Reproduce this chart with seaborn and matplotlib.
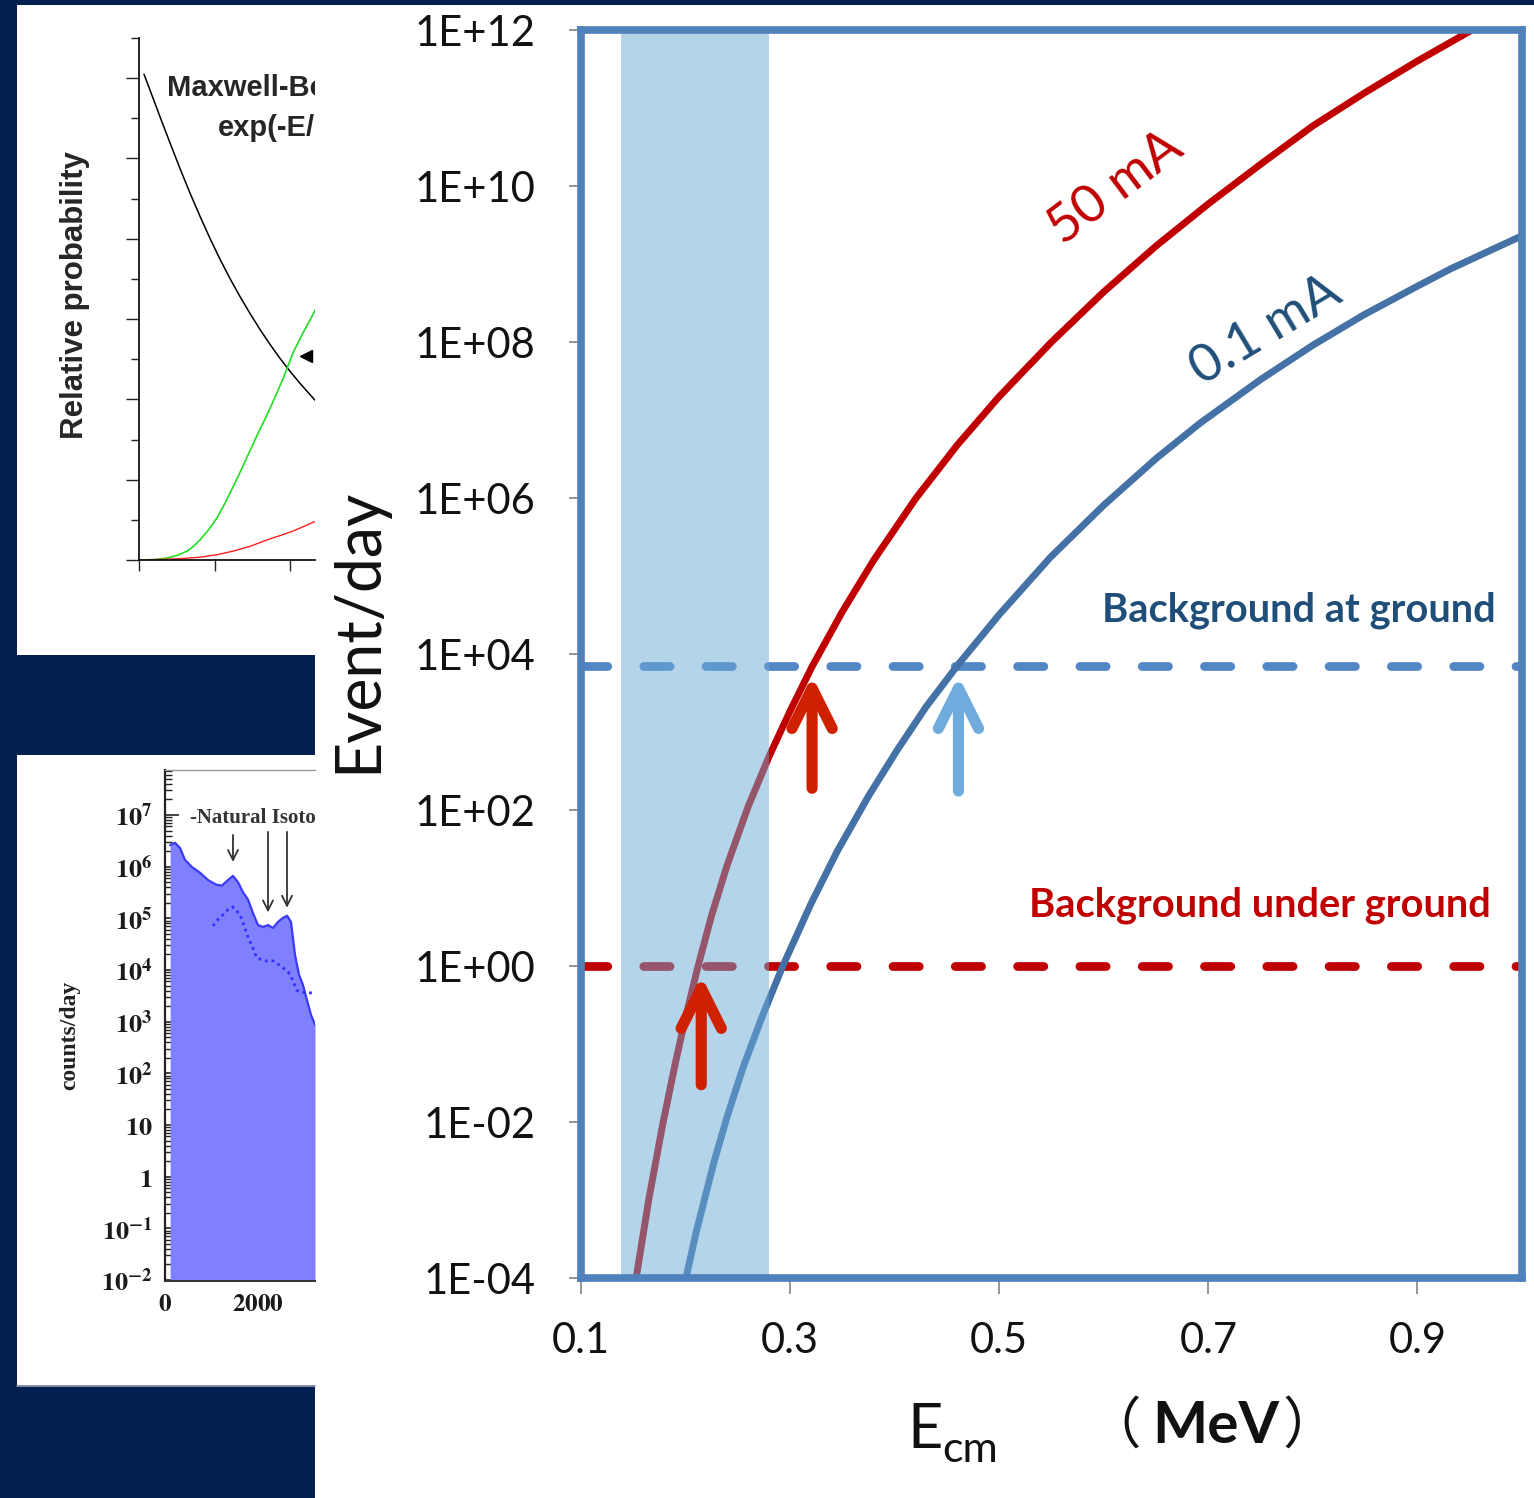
import numpy as np
import pandas as pd
import matplotlib
matplotlib.use("Agg")
import matplotlib.pyplot as plt
import seaborn as sns
from matplotlib.patches import Rectangle
from matplotlib.lines import Line2D
from matplotlib.ticker import (FixedLocator, NullFormatter, NullLocator,
                               LogLocator, MultipleLocator)

# ---------------- main chart: event rate vs centre-of-mass energy ----------------
energy_50mA = [0.153, 0.165, 0.178, 0.190, 0.200, 0.212, 0.225, 0.240, 0.260,
               0.280, 0.300, 0.321, 0.350, 0.380, 0.420, 0.460, 0.500, 0.550,
               0.600, 0.650, 0.700, 0.750, 0.800, 0.850, 0.900, 0.951, 0.970]
events_50mA = [1.05e-4, 1.05e-3, 9.1e-3, 5.5e-2, 0.22, 1.0, 4.5, 20, 112,
               490, 1.86e3, 6.9e3, 3.5e4, 1.6e5, 9.8e5, 4.8e6, 2.0e7, 1.0e8,
               4.4e8, 1.7e9, 5.9e9, 1.9e10, 5.9e10, 1.58e11, 4.0e11, 9.8e11, 1.35e12]

energy_01mA = [0.198, 0.210, 0.227, 0.240, 0.255, 0.273, 0.293, 0.320, 0.345,
               0.375, 0.402, 0.430, 0.461, 0.500, 0.549, 0.600, 0.650, 0.692,
               0.750, 0.800, 0.849, 0.900, 0.932, 0.970, 1.000]
events_01mA = [7.2e-5, 3.8e-4, 3.0e-3, 1.2e-2, 5.0e-2, 0.22, 1.0, 6.3, 29.5,
               151, 575, 2.1e3, 7.4e3, 3.2e4, 1.74e5, 8.1e5, 3.2e6, 9.1e6,
               3.3e7, 9.1e7, 2.24e8, 5.2e8, 8.7e8, 1.5e9, 2.3e9]

background_ground = 7.0e3
background_underground = 1.0
stellar_window = (0.138, 0.280)

arrow_energy = [0.215, 0.321, 0.461]
arrow_level = [background_underground, background_ground, background_ground]
arrow_tail = [0.03, 190, 175]

x_ticks = [0.1, 0.3, 0.5, 0.7, 0.9]
x_tick_labels = ["0.1", "0.3", "0.5", "0.7", "0.9"]
y_ticks = [1e-4, 1e-2, 1e0, 1e2, 1e4, 1e6, 1e8, 1e10, 1e12]
y_tick_labels = ["1E-04", "1E-02", "1E+00", "1E+02", "1E+04",
                 "1E+06", "1E+08", "1E+10", "1E+12"]

# ---------------- inset 1: Gamow peak ingredients ----------------
mb_x = [0.066, 0.17, 0.278, 0.41, 0.543, 0.675, 0.808, 0.94, 1.073, 1.205,
        1.338, 1.47, 1.603, 1.735, 1.868, 2.0, 2.132, 2.331]
mb_y = [12.10, 11.58, 11.04, 10.39, 9.75, 9.14, 8.56, 8.01, 7.49, 7.01,
        6.56, 6.14, 5.74, 5.37, 5.02, 4.70, 4.40, 3.98]
tunnel_x = [0.0, 0.2, 0.371, 0.5, 0.636, 0.72, 0.808, 0.92, 1.033, 1.14, 1.245,
            1.36, 1.47, 1.58, 1.695, 1.80, 1.907, 2.04, 2.17, 2.30, 2.331]
tunnel_y = [0.0, 0.01, 0.05, 0.11, 0.22, 0.34, 0.50, 0.75, 1.05, 1.42, 1.82,
            2.27, 2.72, 3.17, 3.61, 4.05, 4.51, 5.16, 5.65, 6.10, 6.22]
low_x = [0.0, 0.37, 0.6, 0.808, 1.03, 1.245, 1.47, 1.695, 1.87, 2.04, 2.2, 2.331]
low_y = [0.0, 0.02, 0.04, 0.07, 0.13, 0.22, 0.34, 0.50, 0.61, 0.72, 0.85, 0.96]

# ---------------- inset 2: gamma background spectrum ----------------
spec_energy = [110, 215, 323, 430, 580, 753, 925, 1097, 1226, 1355, 1462, 1570,
               1677, 1785, 1892, 2000, 2108, 2215, 2323, 2430, 2538, 2624, 2710,
               2796, 2882, 2968, 3054, 3140, 3226]
spec_counts = [2.6e6, 2.9e6, 2.3e6, 1.35e6, 9.8e5, 7.6e5, 5.5e5, 4.5e5, 4.3e5,
               5.5e5, 6.6e5, 5.0e5, 3.2e5, 2.3e5, 1.26e5, 7.4e4, 6.8e4, 7.4e4,
               6.5e4, 8.5e4, 1.02e5, 1.12e5, 8.5e4, 1.95e4, 8.1e3, 5.1e3, 2.6e3,
               1.35e3, 8.7e2]
shield_energy = [1032, 1140, 1247, 1355, 1462, 1613, 1785, 1978, 2151, 2323,
                 2516, 2688, 2839, 3011, 3226]
shield_counts = [7.1e4, 9.5e4, 1.17e5, 1.48e5, 1.66e5, 1.17e5, 4.4e4, 1.7e4,
                 1.5e4, 1.5e4, 1.15e4, 8.3e3, 4.0e3, 3.6e3, 3.6e3]
isotope_energy = [1462, 2215, 2624]
isotope_tip = [1.23e6, 1.3e5, 1.6e5]
isotope_tail = [4.1e6, 4.7e6, 4.7e6]
spec_y_ticks = [1e-2, 1e-1, 1e0, 1e1, 1e2, 1e3, 1e4, 1e5, 1e6, 1e7]
spec_y_labels = [r"$\mathbf{10^{-2}}$", r"$\mathbf{10^{-1}}$", r"$\mathbf{1}$",
                 r"$\mathbf{10}$", r"$\mathbf{10^{2}}$", r"$\mathbf{10^{3}}$",
                 r"$\mathbf{10^{4}}$", r"$\mathbf{10^{5}}$", r"$\mathbf{10^{6}}$",
                 r"$\mathbf{10^{7}}$"]

# ---------------- styling ----------------
NAVY = "#022150"
RED = "#C00000"
CURVE_BLUE = "#4472A7"
DASH_BLUE = "#5286C5"
TEXT_BLUE = "#1F4E79"
FRAME_BLUE = "#4F81BD"
BAND = "#6BABD7"
ARROW_RED = "#CF2000"
ARROW_BLUE = "#6FACDD"

sns.set_theme(style="white")
plt.rcParams["font.family"] = ["Lato", "DejaVu Sans"]
plt.rcParams["mathtext.fontset"] = "stix"

W, H = 1534, 1498
fig = plt.figure(figsize=(W / 100, H / 100), dpi=100, facecolor=NAVY)


def fx(px):
    return px / W


def fy(py):
    return 1 - py / H


# white panels
fig.add_artist(Rectangle((fx(315), 0), 1 - fx(315), fy(5), transform=fig.transFigure,
                         facecolor="white", edgecolor="none", zorder=-1))
fig.add_artist(Rectangle((fx(17), fy(655)), fx(315) - fx(17), fy(5) - fy(655),
                         transform=fig.transFigure, facecolor="white",
                         edgecolor="none", zorder=-1))
fig.add_artist(Rectangle((fx(17), fy(1385)), fx(315) - fx(17), fy(755) - fy(1385),
                         transform=fig.transFigure, facecolor="white",
                         edgecolor="none", zorder=-1))
fig.add_artist(Line2D([fx(17), fx(315)], [fy(1386), fy(1386)], transform=fig.transFigure,
                      color="#9AA3B5", lw=1.2, zorder=-0.5))

# ================= main axes =================
ax = fig.add_axes([fx(581), fy(1278), fx(1522) - fx(581), fy(30) - fy(1278)])
ax.set_yscale("log")

curves = pd.concat([
    pd.DataFrame({"E": energy_50mA, "events": events_50mA, "beam": "50 mA"}),
    pd.DataFrame({"E": energy_01mA, "events": events_01mA, "beam": "0.1 mA"}),
], ignore_index=True)
sns.lineplot(data=curves, x="E", y="events", hue="beam",
             palette={"50 mA": RED, "0.1 mA": CURVE_BLUE},
             estimator=None, linewidth=5, legend=False, ax=ax, zorder=3)

for level, col in [(background_ground, DASH_BLUE), (background_underground, RED)]:
    ax.axhline(level, color=col, lw=6.3, dashes=(3.0, 4.12),
               dash_capstyle="round", zorder=2)

ax.axvspan(*stellar_window, color=BAND, alpha=0.5, lw=0, zorder=4)

for e, lvl, tail, col in zip(arrow_energy, arrow_level, arrow_tail,
                             [ARROW_RED, ARROW_RED, ARROW_BLUE]):
    ax.annotate("", xy=(e, lvl), xytext=(e, tail),
                arrowprops=dict(arrowstyle="->,head_length=29,head_width=14.5",
                                mutation_scale=1, color=col, lw=8,
                                capstyle="round", joinstyle="round",
                                shrinkA=0, shrinkB=7),
                zorder=5)

ax.set_xlim(0.1, 1.0)
ax.set_ylim(1e-4, 1e12)
ax.set_xticks(x_ticks, x_tick_labels)
ax.set_yticks(y_ticks, y_tick_labels)
ax.yaxis.set_minor_locator(NullLocator())
ax.xaxis.set_minor_locator(NullLocator())
ax.tick_params(axis="y", left=True, length=9, width=1.3, color="#8C8C8C",
               direction="out", pad=24, labelsize=30, labelcolor="#111111")
ax.tick_params(axis="x", bottom=True, length=11.5, width=1.3, color="#8C8C8C",
               direction="out", pad=20, labelsize=30, labelcolor="#111111")
ax.set_xlabel("")
ax.set_ylabel("")
for sp in ax.spines.values():
    sp.set_color(FRAME_BLUE)
    sp.set_linewidth(5.5)
    sp.set_zorder(7)

ax.text(0.611, 9.3e9, "50 mA", rotation=37, color=RED, fontsize=38,
        ha="center", va="center", rotation_mode="anchor", zorder=6)
ax.text(0.7545, 1.4e8, "0.1 mA", rotation=31, color=TEXT_BLUE, fontsize=38,
        ha="center", va="center", rotation_mode="anchor", zorder=6)
ax.text(0.9746, 2.6e4, "Background at ground", color=TEXT_BLUE, fontsize=28.7,
        fontweight="bold", ha="right", va="baseline", zorder=6)
ax.text(0.9699, 4.25, "Background under ground", color=RED, fontsize=28.7,
        fontweight="bold", ha="right", va="baseline", zorder=6)

fig.text(fx(358), fy(630), "Event/day", rotation=90, fontsize=45,
         ha="center", va="center", color="#111111")
fig.text(fx(907), fy(1448), "E", fontsize=44, ha="left", va="baseline", color="#111111")
fig.text(fx(942), fy(1462), "cm", fontsize=31, ha="left", va="baseline", color="#111111")
fig.text(fx(1152), fy(1443), "MeV", fontsize=42, fontweight="bold",
         ha="left", va="baseline", color="#111111")
fig.text(fx(1141), fy(1443), "（", fontsize=40, ha="right", va="baseline",
         color="#111111", family=["Noto Sans CJK SC"])
fig.text(fx(1282), fy(1443), "）", fontsize=40, ha="left", va="baseline",
         color="#111111", family=["Noto Sans CJK SC"])

# ================= inset 1 =================
ax1 = fig.add_axes([fx(139), fy(560), fx(315) - fx(139), fy(38) - fy(560)])
ax1.set_facecolor("none")
ax1.plot(mb_x, mb_y, color="black", lw=1.1)
ax1.plot(tunnel_x, tunnel_y, color="#22DD22", lw=1.2)
ax1.plot(low_x, low_y, color="#FF2020", lw=1.0)
ax1.plot([2.21], [5.08], marker="<", color="black", ms=8, clip_on=True)
ax1.set_xlim(0, 2.331)
ax1.set_ylim(0, 13)
ax1.set_yticks(range(0, 13, 2))
ax1.yaxis.set_minor_locator(MultipleLocator(1))
ax1.set_xticks([0, 1, 2])
ax1.tick_params(which="major", axis="y", left=True, length=9.4, width=1.0,
                direction="out", labelleft=False, color="#222222")
ax1.tick_params(which="minor", axis="y", left=True, length=5.8, width=1.0,
                direction="out", color="#222222")
ax1.tick_params(axis="x", bottom=True, length=8, width=1.0, direction="out",
                labelbottom=False, color="#222222")
for side in ["top", "right"]:
    ax1.spines[side].set_visible(False)
for side in ["left", "bottom"]:
    ax1.spines[side].set_color("#111111")
    ax1.spines[side].set_linewidth(1.3)
ax1.text(0.37, 11.55, "Maxwell-Boltzmann", fontsize=21, fontweight="bold",
         family=["Liberation Sans"], va="baseline", clip_on=True)
ax1.text(1.05, 10.56, "exp(-E/kT)", fontsize=21, fontweight="bold",
         family=["Liberation Sans"], va="baseline", clip_on=True)
fig.text(fx(75), fy(295), "Relative probability", rotation=90, fontsize=22.5,
         fontweight="bold", family=["Liberation Sans"], ha="center", va="center")

# ================= inset 2 =================
ax2 = fig.add_axes([fx(165), fy(1281), fx(315) - fx(165), fy(770) - fy(1281)])
ax2.set_facecolor("none")
ax2.set_yscale("log")
ax2.fill_between(spec_energy, 1e-3, spec_counts, color="#8080FF", lw=0)
ax2.plot(spec_energy, spec_counts, color="#3A3AF5", lw=1.6)
ax2.plot(shield_energy, shield_counts, color="#3030FF", lw=2.0, ls=(0, (1, 1.4)))
for e, tip, tail in zip(isotope_energy, isotope_tip, isotope_tail):
    ax2.annotate("", xy=(e, tip), xytext=(e, tail),
                 arrowprops=dict(arrowstyle="->,head_length=0.6,head_width=0.3",
                                 mutation_scale=12, color="#333333", lw=1.3,
                                 shrinkA=0, shrinkB=0))
ax2.set_xlim(0, 3226)
ax2.set_ylim(10 ** -2.02, 10 ** 7.87)
ax2.yaxis.set_major_locator(FixedLocator(spec_y_ticks))
ax2.set_yticklabels(spec_y_labels)
ax2.yaxis.set_minor_locator(LogLocator(base=10, subs=np.arange(2, 10), numticks=20))
ax2.yaxis.set_minor_formatter(NullFormatter())
ax2.set_xticks([0, 2000], [r"$\mathbf{0}$", r"$\mathbf{2000}$"])
ax2.xaxis.set_minor_locator(MultipleLocator(500))
ax2.tick_params(which="major", axis="y", left=True, direction="in", length=10,
                width=1.2, pad=9, labelsize=19, color="#222222",
                labelcolor="#1A1A1A")
ax2.tick_params(which="minor", axis="y", left=True, direction="in", length=5,
                width=1.0, color="#222222")
ax2.tick_params(which="major", axis="x", bottom=True, direction="in", length=8,
                width=1.2, pad=8, labelsize=18, color="#444444",
                labelcolor="#1A1A1A")
ax2.tick_params(which="minor", axis="x", bottom=True, direction="in", length=5,
                width=1.0, color="#444444")
ax2.spines["right"].set_visible(False)
ax2.spines["left"].set_color("#222222")
ax2.spines["left"].set_linewidth(1.6)
ax2.spines["bottom"].set_color("#333333")
ax2.spines["bottom"].set_linewidth(1.4)
ax2.spines["top"].set_color("#999999")
ax2.spines["top"].set_linewidth(1.0)
ax2.text(540, 10 ** 6.94, "-Natural Isotopes", fontsize=15, fontweight="bold",
         family=["Liberation Serif", "DejaVu Serif"], color="#333333",
         va="center", ha="left", clip_on=True)
fig.text(fx(70), fy(1035), "counts/day", rotation=90, fontsize=17,
         fontweight="bold", family=["Liberation Serif", "DejaVu Serif"],
         ha="center", va="center", color="#222222")

fig.savefig("out.png", dpi=100, facecolor=fig.get_facecolor())
